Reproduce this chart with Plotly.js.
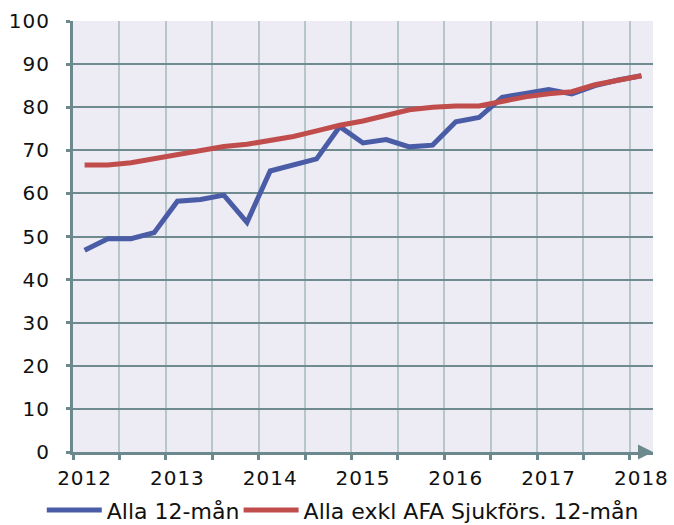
<!DOCTYPE html>
<html>
<head>
<meta charset="utf-8">
<script src="https://cdn.plot.ly/plotly-3.0.1.min.js"></script>
<style>
html,body{margin:0;padding:0;background:#fff;}
#chart{width:674px;height:525px;}
#chart .xtick text, #chart .ytick text {letter-spacing: 1px;}
</style>
</head>
<body>
<div id="chart"></div>
<script>
// Quarter mid-points (decimal years)
const quarters = [2012.125, 2012.375, 2012.625, 2012.875,
                  2013.125, 2013.375, 2013.625, 2013.875,
                  2014.125, 2014.375, 2014.625, 2014.875,
                  2015.125, 2015.375, 2015.625, 2015.875,
                  2016.125, 2016.375, 2016.625, 2016.875,
                  2017.125, 2017.375, 2017.625, 2017.875,
                  2018.125];
const allaValues = [46.8, 49.5, 49.5, 50.9,
                    58.2, 58.6, 59.6, 53.3,
                    65.2, 66.6, 68.0, 75.5,
                    71.7, 72.5, 70.8, 71.2,
                    76.6, 77.6, 82.3, 83.2,
                    84.1, 83.1, 85.0, 86.3,
                    87.3];
const exklValues = [66.6, 66.6, 67.1, 68.0,
                    69.1, 70.0, 70.9, 71.4,
                    72.2, 73.2, 74.5, 75.8,
                    76.8, 78.1, 79.4, 80.0,
                    80.3, 80.3, 81.4, 82.4,
                    83.1, 83.6, 85.2, 86.2,
                    87.3];
const yearTickPos = [2012.125, 2013.125, 2014.125, 2015.125, 2016.125, 2017.125, 2018.125];
const yearLabels = ['2012', '2013', '2014', '2015', '2016', '2017', '2018'];
const seriesNames = ['Alla 12-mån', 'Alla exkl AFA Sjukförs. 12-mån'];

const axisColor = '#6c8a8e';
const font = {family: 'DejaVu Sans, Verdana, sans-serif', size: 20, color: '#111'};
const legendFont = {family: 'DejaVu Sans, Verdana, sans-serif', size: 22, color: '#111'};

const traces = [
  {x: quarters, y: allaValues, name: seriesNames[0], type: 'scatter', mode: 'lines',
   line: {color: '#4a5ca6', width: 5}, legend: 'legend'},
  {x: quarters, y: exklValues, name: seriesNames[1], type: 'scatter', mode: 'lines',
   line: {color: '#c04d4b', width: 5}, legend: 'legend2'}
];

const legendBase = {orientation: 'h', xref: 'container', yref: 'container',
  xanchor: 'left', y: 0.028, yanchor: 'middle',
  font: legendFont, itemwidth: 55, bgcolor: 'rgba(0,0,0,0)'};

const layout = {
  width: 674, height: 525,
  margin: {l: 73, r: 21, t: 21, b: 73, autoexpand: false},
  paper_bgcolor: '#ffffff',
  plot_bgcolor: '#edecf5',
  font: font,
  showlegend: true,
  legend: Object.assign({}, legendBase, {x: 0.062}),
  legend2: Object.assign({}, legendBase, {x: 0.354}),
  xaxis: {
    range: [2012, 2018.25],
    tickmode: 'array', tickvals: yearTickPos, ticktext: yearLabels,
    ticks: '', showgrid: false, zeroline: false,
    showline: true, linecolor: axisColor, linewidth: 3,
    ticklabelstandoff: 6,
    tickfont: font,
    minor: {tickmode: 'linear', tick0: 2012, dtick: 0.5, ticks: 'outside', ticklen: 5,
            tickwidth: 3, tickcolor: axisColor, showgrid: true, gridcolor: '#b7c6c8', gridwidth: 2}
  },
  yaxis: {
    range: [0, 100], dtick: 10, tick0: 0,
    ticks: 'outside', ticklen: 4, tickwidth: 3, tickcolor: axisColor,
    showline: true, linecolor: axisColor, linewidth: 3,
    showgrid: true, gridcolor: '#6f8b8f', gridwidth: 2, zeroline: false,
    ticklabelstandoff: 12,
    tickfont: font
  },
  annotations: [{
    x: 2018.25, y: 0, xref: 'x', yref: 'y',
    ax: 2018.1, ay: 0, axref: 'x', ayref: 'y',
    showarrow: true, arrowhead: 2, arrowsize: 1.0, arrowwidth: 3, arrowcolor: axisColor,
    standoff: 0, text: ''
  }]
};

Plotly.newPlot('chart', traces, layout, {displayModeBar: false, staticPlot: true});
</script>
</body>
</html>
